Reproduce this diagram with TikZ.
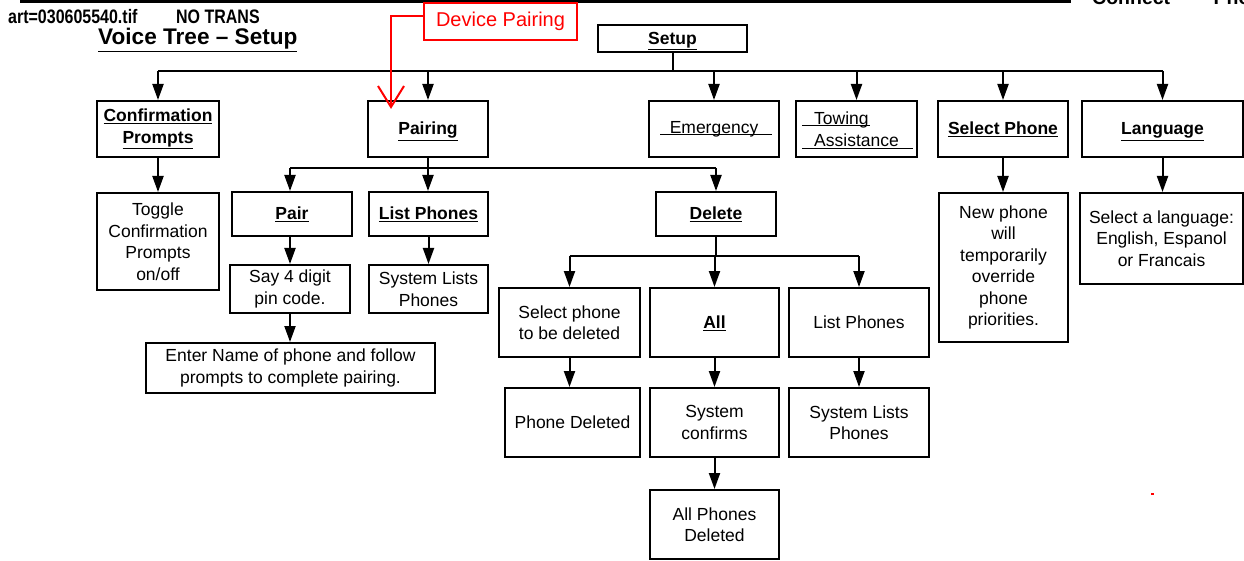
\documentclass[tikz,border=0pt]{standalone}
\usepackage{fontspec}
\usepackage{graphicx}
\setmainfont{Liberation Sans}
\usetikzlibrary{arrows.meta}
\newcommand{\fs}{\fontsize{17.5}{21.5}\selectfont}
\begin{document}
\begin{tikzpicture}[x=1pt,y=-1pt,
  box/.style={draw, line width=2pt, inner sep=0pt, align=center, font=\fs},
  bbox/.style={box, font=\fs\bfseries, text height=14pt, text depth=2pt},
  arr/.style={line width=2pt, -{Triangle[width=11pt,length=16pt]}},
  ln/.style={line width=2pt},
  ul/.style={line width=1pt},
  redc/.style={red, line width=2pt}
]
\useasboundingbox (0,0) rectangle (1244,561);
% header
\fill (20,0) rectangle (1071,3);
\node[anchor=base west, inner sep=0pt, font=\bfseries\fontsize{19.5}{20}\selectfont] (art) at (8,24) {\scalebox{0.82}[1]{art=030605540.tif}};
\node[anchor=base west, inner sep=0pt, font=\bfseries\fontsize{19.5}{20}\selectfont] (notrans) at (176,24) {\scalebox{0.82}[1]{NO TRANS}};
\node[anchor=base west, inner sep=0pt, font=\bfseries\fontsize{22.6}{24}\selectfont] (title) at (98,45) {\underline{Voice Tree – Setup}};
\node[anchor=base west, inner sep=0pt, font=\bfseries\fontsize{19.5}{20}\selectfont] (hdr) at (1092,5) {Connect\hspace{12pt}—\hspace{12pt}Phone};

% level 0
\node[bbox, minimum width=149pt, minimum height=27pt] (setup) at (672.5,38.5) {\underline{Setup}};
% level 1
\node[box, minimum width=122pt, minimum height=56pt, font=\fs\bfseries] (conf) at (158,129) {\underline{Confirmation}\\\underline{Prompts}};
\node[bbox, minimum width=120pt, minimum height=56pt] (pairing) at (428,129) {\underline{Pairing}};
\node[box, minimum width=130pt, minimum height=56pt] (emerg) at (714,129) {Emergency};
\node[box, minimum width=121pt, minimum height=56pt, align=left] (towing) at (856.5,129) {Towing\\Assistance};
\node[bbox, minimum width=130pt, minimum height=56pt] (selph) at (1003,129) {\underline{Select Phone}};
\node[bbox, minimum width=161pt, minimum height=56pt] (lang) at (1162.5,129) {\underline{Language}};
\draw[ul] ([shift={(-54,6)}]emerg.center) -- ++(112,0);
\draw[ul] ([shift={(-54.5,-3)}]towing.center) -- ++(68,0);
\draw[ul] ([shift={(-54.5,19.7)}]towing.center) -- ++(111,0);

% level 2
\node[box, minimum width=122pt, minimum height=97pt] (toggle) at (158,241.5) {Toggle\\Confirmation\\Prompts\\on/off};
\node[bbox, minimum width=120pt, minimum height=44pt] (pair) at (292,214) {\underline{Pair}};
\node[bbox, minimum width=119pt, minimum height=44pt] (listph) at (428.5,214) {\underline{List Phones}};
\node[bbox, minimum width=120pt, minimum height=44pt] (delete) at (716,214) {\underline{Delete}};
\node[box, minimum width=129pt, minimum height=149pt] (newph) at (1003.5,267.5) {New phone\\will\\temporarily\\override\\phone\\priorities.};
\node[box, minimum width=163pt, minimum height=91pt] (sellang) at (1161.5,238.5) {Select a language:\\English, Espanol\\or Francais};

% level 3
\node[box, minimum width=120pt, minimum height=48pt] (say) at (290,289) {Say 4 digit\\pin code.};
\node[box, minimum width=119pt, minimum height=48pt] (sysl1) at (428.5,289) {System Lists\\Phones};
\node[box, minimum width=289pt, minimum height=50pt] (enter) at (290.5,368) {Enter Name of phone and follow\\prompts to complete pairing.};
\node[box, minimum width=141pt, minimum height=69pt] (seldel) at (569.5,322.5) {Select phone\\to be deleted};
\node[bbox, minimum width=129pt, minimum height=69pt] (all) at (714.5,322.5) {\underline{All}};
\node[box, minimum width=140pt, minimum height=69pt] (listph2) at (859,322.5) {List Phones};
\node[box, minimum width=135pt, minimum height=69pt] (phdel) at (572.5,422.5) {Phone Deleted};
\node[box, minimum width=129pt, minimum height=69pt] (syscon) at (714.5,422.5) {System\\confirms};
\node[box, minimum width=140pt, minimum height=69pt] (sysl2) at (859,422.5) {System Lists\\Phones};
\node[box, minimum width=129pt, minimum height=69pt] (allph) at (714.5,524.5) {All Phones\\Deleted};

% connectors
\coordinate (b1) at (0,71);
\coordinate (b2) at (0,168);
\coordinate (b3) at (0,256);
\draw[ln] (setup.south) -- (setup.south |- b1);
\draw[ln] (b1 -| conf) -- (b1 -| lang);
\foreach \n in {conf,pairing,emerg,towing,selph,lang} \draw[arr] (b1 -| \n) -- (\n.north);
\draw[ln] (pairing.south) -- (pairing.south |- b2);
\draw[ln] ([xshift=-2pt]b2 -| pair) -- (b2 -| delete);
\draw[arr] ([xshift=-2pt]b2 -| pair) -- ([xshift=-2pt]pair.north);
\draw[arr] (b2 -| pairing) -- (listph.north -| pairing);
\draw[arr] (b2 -| delete) -- (delete.north);
\draw[arr] (conf.south) -- (toggle.north);
\draw[arr] (selph.south) -- (newph.north -| selph);
\draw[arr] (lang.south) -- (sellang.north -| lang);
\draw[arr] (say.north |- pair.south) -- (say.north);
\draw[arr] (say.south) -- (say.south |- enter.north);
\draw[arr] (listph.south) -- (sysl1.north);
\draw[ln] (delete.south) -- (delete.south |- b3);
\draw[ln] (b3 -| seldel) -- (b3 -| listph2);
\draw[arr] (b3 -| seldel) -- (seldel.north);
\draw[arr] (b3 -| all) -- (all.north);
\draw[arr] (b3 -| listph2) -- (listph2.north);
\draw[arr] (seldel.south) -- (seldel.south |- phdel.north);
\draw[arr] (all.south) -- (syscon.north);
\draw[arr] (syscon.south) -- (allph.north);
\draw[arr] (listph2.south) -- (sysl2.north);

% red annotation
\node[draw=red, line width=2pt, text=red, inner sep=0pt, minimum width=153pt, minimum height=37pt, font=\fontsize{20}{24}\selectfont] (dev) at (500.5,21.5) {Device Pairing};
\coordinate (redtip) at (391,107);
\draw[redc] ([yshift=5.5pt]dev.west) -| (redtip);
\draw[redc] ([shift={(-13,-21)}]redtip) -- (redtip) -- ([shift={(13,-21)}]redtip);
\fill[red] (1151,493) rectangle (1154,495);
\end{tikzpicture}
\end{document}
